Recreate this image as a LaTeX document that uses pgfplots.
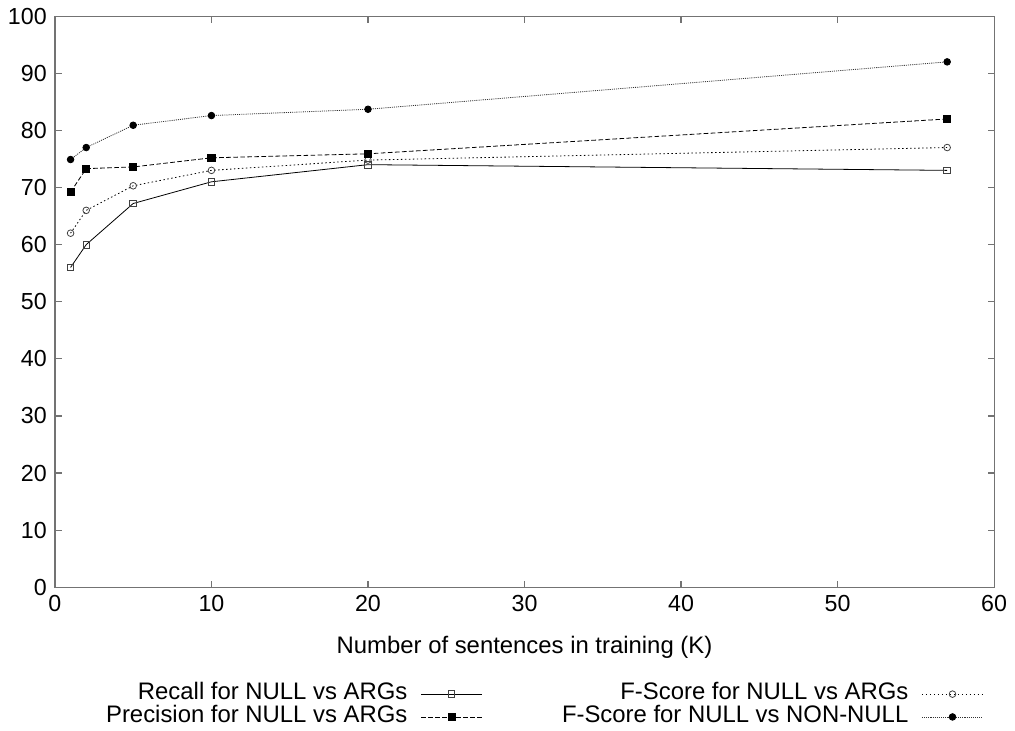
\documentclass[border=0pt]{standalone}
\usepackage{pgfplots}
\pgfplotsset{compat=1.18}
\usepackage{fontspec}
\setmainfont{Liberation Sans}
\begin{document}
\fontsize{18}{21}\selectfont
\begin{tikzpicture}
\begin{axis}[
    scale only axis,
    width=708pt, height=430.5pt,
    xmin=0, xmax=60, ymin=0, ymax=100,
    xtick={0,10,...,60}, ytick={0,10,...,100},
    tick align=inside,
    major tick length=5pt,
    axis line style={black!55, line width=0.9pt},
    every tick/.style={black!55, line width=0.9pt},
    /pgf/number format/assume math mode=true,
    ticklabel style={font=\fontsize{17.5}{20}\selectfont},
    xlabel={Number of sentences in training (K)},
    xlabel style={font=\fontsize{18}{21}\selectfont, yshift=-6pt},
    legend plot pos=right,
    legend cell align=right,
    legend columns=2,
    legend image code/.code={
        \draw[mark repeat=2, mark phase=2] plot coordinates {(0pt,0pt) (23pt,0pt) (46pt,0pt)};
    },
    legend style={
        draw=none, fill=none,
        at={(0.05,-0.162)}, anchor=north west,
        font=\fontsize{18}{21}\selectfont,
        nodes={inner sep=0pt, text height=13pt, text depth=4.2pt},
        /tikz/every even column/.append style={column sep=60pt},
        /tikz/every odd column/.append style={column sep=10pt},
    },
]
\addplot[black, line width=0.6pt, mark=square, mark size=2.5pt, mark options={solid, black!75}]
    coordinates {(1,56) (2,60) (5,67.2) (10,71) (20,74) (57,73)};
\addlegendentry{Recall for NULL vs ARGs}
\addplot[black, line width=0.6pt, dash pattern=on 1.1pt off 1.9pt, mark=o, mark size=2.5pt, mark options={solid, black!75}]
    coordinates {(1,62) (2,66) (5,70.3) (10,73) (20,74.8) (57,77)};
\addlegendentry{F-Score for NULL vs ARGs}
\addplot[black, line width=0.6pt, dash pattern=on 3.5pt off 1.8pt, mark=square*, mark size=2.7pt, mark options={solid}]
    coordinates {(1,69.2) (2,73.3) (5,73.6) (10,75.2) (20,75.9) (57,82)};
\addlegendentry{Precision for NULL vs ARGs}
\addplot[black!80, line width=0.6pt, dash pattern=on 0.8pt off 0.8pt, mark=*, mark size=2.5pt, mark options={solid, black}]
    coordinates {(1,74.9) (2,77) (5,80.9) (10,82.6) (20,83.7) (57,92)};
\addlegendentry{F-Score for NULL vs NON-NULL}
\end{axis}
\end{tikzpicture}
\end{document}
